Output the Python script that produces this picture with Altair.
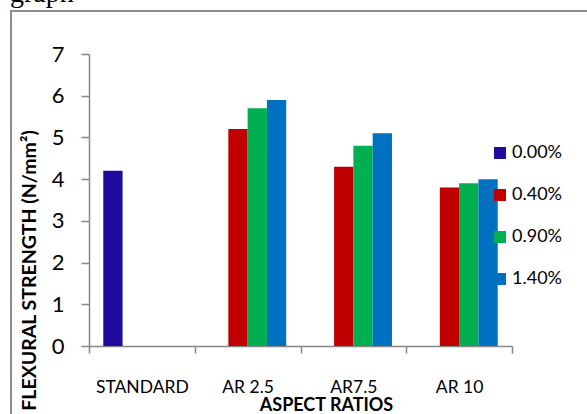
import altair as alt
import pandas as pd

# ---- data ----
categories = ["STANDARD", "AR 2.5", "AR7.5", "AR 10"]
series = ["0.00%", "0.40%", "0.90%", "1.40%"]
standard_values = [4.2]          # 0.00% series, STANDARD only
fib_040 = [5.2, 4.3, 3.8]         # AR 2.5, AR7.5, AR 10
fib_090 = [5.7, 4.8, 3.9]
fib_140 = [5.9, 5.1, 4.0]
y_ticks = [0, 1, 2, 3, 4, 5, 6, 7]
colors = ["#1F0B9C", "#C00000", "#00B050", "#0070C0"]

rows = [{"cat": categories[0], "ser": series[0], "val": standard_values[0]}]
for i, c in enumerate(categories[1:]):
    rows.append({"cat": c, "ser": series[1], "val": fib_040[i]})
    rows.append({"cat": c, "ser": series[2], "val": fib_090[i]})
    rows.append({"cat": c, "ser": series[3], "val": fib_140[i]})
df = pd.DataFrame(rows)

W, H = 423, 292
FONT = "Lato"
AX = "#868686"

bars = alt.Chart(df).mark_bar().encode(
    x=alt.X("cat:N", sort=categories,
            scale=alt.Scale(paddingInner=0, paddingOuter=0),
            axis=alt.Axis(title="ASPECT RATIOS", labelAngle=0, tickBand="extent",
                          domainColor=AX, domainWidth=1.5, tickColor=AX, tickWidth=1.5,
                          tickSize=7, labelFont=FONT, labelFontSize=17.5, labelColor="black",
                          labelBaseline="alphabetic", labelPadding=39,
                          titleFont=FONT, titleFontSize=18, titleFontWeight="bold",
                          titleColor="black", titleX=237, titleY=64,
                          titleBaseline="alphabetic", titleAlign="center")),
    xOffset=alt.XOffset("ser:N", sort=series,
                        scale=alt.Scale(paddingInner=0, paddingOuter=0.74)),
    y=alt.Y("val:Q", scale=alt.Scale(domain=[0, 7], nice=False, zero=True),
            axis=alt.Axis(title="FLEXURAL STRENGTH (N/mm²)", values=y_ticks, grid=False,
                          domainColor=AX, domainWidth=1.5, tickColor=AX, tickWidth=1.5,
                          tickSize=8, labelFont=FONT, labelFontSize=22, labelColor="black",
                          labelPadding=17,
                          titleFont=FONT, titleFontSize=19.5, titleFontWeight="bold",
                          titleColor="black", titleAngle=270, titleX=-54, titleY=216,
                          titleBaseline="alphabetic", titleAlign="center")),
    color=alt.Color("ser:N", sort=series,
                    scale=alt.Scale(domain=series, range=colors),
                    legend=alt.Legend(title=None, orient="none", legendX=402, legendY=90,
                                      symbolType="square", symbolSize=144,
                                      symbolStrokeWidth=0, labelFont=FONT,
                                      labelFontSize=18, labelColor="black",
                                      labelOffset=3, rowPadding=24, padding=0)),
)

frame = alt.Chart(pd.DataFrame({"k": [0]})).mark_rect(
    fill=None, stroke="#8C8C8C", strokeWidth=2
).encode(
    x=alt.value(-78), x2=alt.value(520), y=alt.value(-43), y2=alt.value(380)
)

caption = alt.Chart(pd.DataFrame({"t": ["graph"]})).mark_text(
    font="Liberation Serif", fontSize=28, align="left", baseline="alphabetic",
    color="black"
).encode(text="t:N", x=alt.value(-79), y=alt.value(-52))

chart = alt.layer(frame, caption, bars).properties(
    width=W, height=H,
    autosize=alt.AutoSizeParams(type="none"),
    padding={"left": 89, "top": 54, "right": 75, "bottom": 68},
    background="white",
).configure_view(stroke=None)

chart.save("out.html", embed_options={"renderer": "svg", "actions": False})
